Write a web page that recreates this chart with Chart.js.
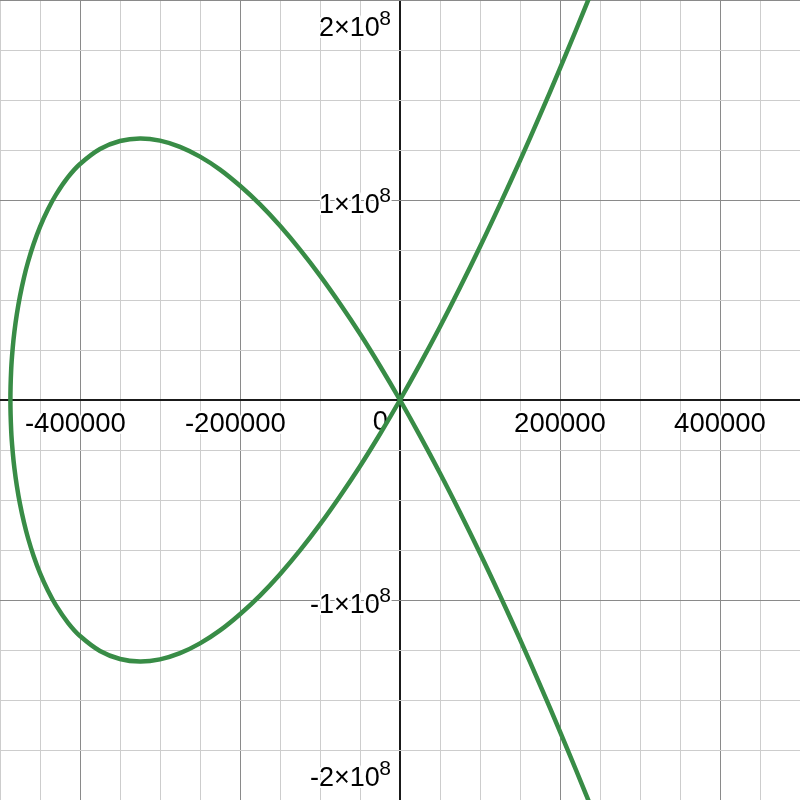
<!DOCTYPE html>
<html>
<head>
<meta charset="utf-8">
<script src="https://cdn.jsdelivr.net/npm/chart.js@4"></script>
<style>
  html, body { margin: 0; padding: 0; background: #fff; }
  #wrap { width: 800px; height: 800px; }
</style>
</head>
<body>
<div id="wrap"><canvas id="chart" width="800" height="800"></canvas></div>
<script>
// points, in drawing order (bottom right -> loop -> top right)
const curveX = [
  240000, 220000, 200000, 175000, 150000, 125000, 100000, 75000, 50000, 25000,
  0,
  -25000, -50000, -75000, -100000, -125000, -150000, -175000, -200000,
  -225000, -250000, -275000, -300000, -325000, -350000, -375000, -400000,
  -415000, -430000, -440000, -450000, -458000, -465000, -470000, -475000,
  -479000, -482000, -484000, -486000,
  -487000,
  -486000, -484000, -482000, -479000, -475000, -470000, -465000, -458000,
  -450000, -440000, -430000, -415000, -400000, -375000, -350000, -325000,
  -300000, -275000, -250000, -225000, -200000, -175000, -150000, -125000,
  -100000, -75000, -50000, -25000,
  0,
  25000, 50000, 75000, 100000, 125000, 150000, 175000, 200000, 220000, 240000,
];
const curveY = [
  -2.046e8, -1.850e8, -1.658e8, -1.424e8, -1.197e8, -9.78e7, -7.66e7, -5.62e7, -3.66e7, -1.79e7,
  0,
  1.70e7, 3.31e7, 4.81e7, 6.22e7, 7.52e7, 8.71e7, 9.78e7, 1.071e8,
  1.152e8, 1.217e8, 1.266e8, 1.297e8, 1.308e8, 1.295e8, 1.255e8, 1.180e8,
  1.114e8, 1.027e8, 9.54e7, 8.66e7, 7.80e7, 6.90e7, 6.13e7, 5.20e7,
  4.28e7, 3.41e7, 2.65e7, 1.54e7,
  0,
  -1.54e7, -2.65e7, -3.41e7, -4.28e7, -5.20e7, -6.13e7, -6.90e7, -7.80e7,
  -8.66e7, -9.54e7, -1.027e8, -1.114e8, -1.180e8, -1.255e8, -1.295e8, -1.308e8,
  -1.297e8, -1.266e8, -1.217e8, -1.152e8, -1.071e8, -9.78e7, -8.71e7, -7.52e7,
  -6.22e7, -4.81e7, -3.31e7, -1.70e7,
  0,
  1.79e7, 3.66e7, 5.62e7, 7.66e7, 9.78e7, 1.197e8, 1.424e8, 1.658e8, 1.850e8, 2.046e8,
];

const xLabelValues = [-400000, -200000, 200000, 400000];
const yLabelValues = [2e8, 1e8, -1e8, -2e8];

const FONT = '"Liberation Sans", Arial, sans-serif';

function gridColor(value, majorStep) {
  if (value === 0) return "#1a1a1a";
  if (value % majorStep === 0) return "#8a8a8a";
  return "#cdcdcd";
}

function haloText(ctx, text, x, y) {
  ctx.strokeText(text, x, y);
  ctx.fillText(text, x, y);
}

const axisLabels = {
  id: "axisLabels",
  beforeDatasetsDraw(chart) {
    const ctx = chart.ctx;
    const xs = chart.scales.x;
    const ys = chart.scales.y;
    const x0 = xs.getPixelForValue(0);
    const y0 = ys.getPixelForValue(0);
    ctx.save();
    ctx.fillStyle = "#000";
    ctx.strokeStyle = "#fff";
    ctx.lineWidth = 4;
    ctx.lineJoin = "round";
    ctx.textBaseline = "alphabetic";

    ctx.font = "27.5px " + FONT;
    ctx.textAlign = "center";
    xLabelValues.forEach((v) => {
      const px = xs.getPixelForValue(v);
      const text = String(v);
      const shift = v < 0 ? ctx.measureText("-").width / 2 : 0;
      haloText(ctx, text, px - shift, y0 + 32);
    });
    ctx.textAlign = "right";
    haloText(ctx, "0", x0 - 12, y0 + 30);

    yLabelValues.forEach((v) => {
      const py = ys.getPixelForValue(v);
      const mant = v / 1e8;
      const main = mant + "\u00d710";
      const right = x0 - 9;
      let base = py + 13;
      base = Math.max(base, 36);
      base = Math.min(base, chart.height - 14);
      ctx.font = "21px " + FONT;
      const w8 = ctx.measureText("8").width;
      ctx.textAlign = "right";
      haloText(ctx, "8", right, base - 11.5);
      ctx.font = "27px " + FONT;
      haloText(ctx, main, right - w8 + 0.5, base);
    });
    ctx.restore();
  },
};

new Chart(document.getElementById("chart"), {
  type: "scatter",
  data: {
    datasets: [
      {
        data: curveX.map((x, i) => ({ x: x, y: curveY[i] })),
        showLine: true,
        borderColor: "#388c46",
        borderWidth: 4.5,
        pointRadius: 0,
        tension: 0.4,
        fill: false,
      },
    ],
  },
  options: {
    responsive: false,
    animation: false,
    layout: { padding: 0 },
    plugins: {
      legend: { display: false },
      tooltip: { enabled: false },
    },
    scales: {
      x: {
        type: "linear",
        min: -500000,
        max: 500000,
        border: { display: false },
        ticks: { display: false, stepSize: 50000 },
        grid: {
          drawTicks: false,
          color: (c) => gridColor(c.tick.value, 200000),
          lineWidth: (c) => (c.tick.value === 0 ? 2 : 1),
        },
      },
      y: {
        type: "linear",
        min: -2e8,
        max: 2e8,
        border: { display: false },
        ticks: { display: false, stepSize: 2.5e7 },
        grid: {
          drawTicks: false,
          color: (c) => gridColor(c.tick.value, 1e8),
          lineWidth: (c) => (c.tick.value === 0 ? 2 : 1),
        },
      },
    },
  },
  plugins: [axisLabels],
});
</script>
</body>
</html>
